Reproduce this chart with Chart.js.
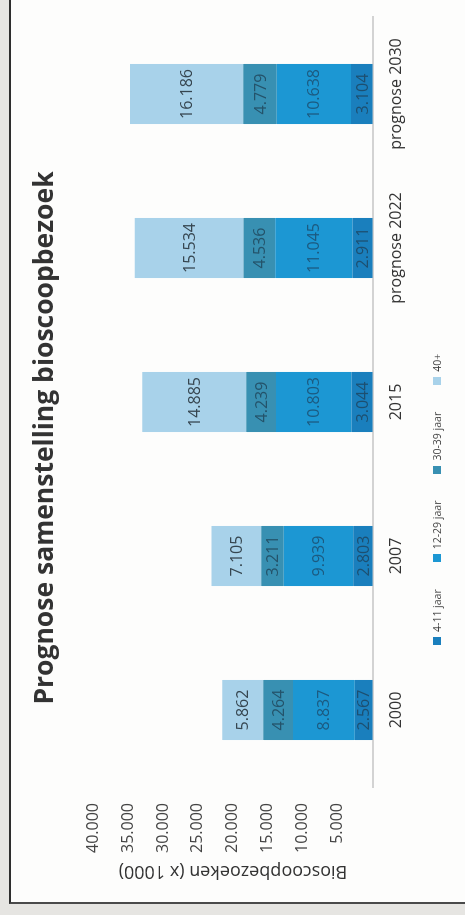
<!DOCTYPE html>
<html>
<head>
<meta charset="utf-8">
<script src="https://cdn.jsdelivr.net/npm/chart.js@4.4.1/dist/chart.umd.min.js"></script>
<style>
  html, body { margin: 0; padding: 0; }
  body {
    width: 465px; height: 915px; position: relative; overflow: hidden;
    background: #e6e5e2; font-family: "Open Sans", sans-serif;
  }
  /* the printed sheet with its frame lines */
  #sheet {
    position: absolute; left: 9px; top: 0; width: 456px; height: 904px;
    background: #fdfdfc; box-sizing: border-box;
    border-left: 2px solid #2e2e2e; border-bottom: 2px solid #4a4a4a;
  }
  /* the chart is laid out landscape and turned a quarter turn */
  #turn {
    position: absolute; left: 0; top: 0; width: 915px; height: 465px;
    transform-origin: 0 0; transform: translate(0, 915px) rotate(-90deg);
  }
  #chart { position: absolute; left: 0; top: 0; }
  #legend {
    position: absolute; left: 270px; top: 430px; height: 14px;
    display: flex; align-items: center; gap: 27px;
    font: 10.5px "Open Sans", sans-serif; color: #444; white-space: nowrap;
  }
  #legend .item { display: flex; align-items: center; }
  #legend .box { width: 8px; height: 8px; margin-right: 5px; }
</style>
</head>
<body>
<div id="sheet"></div>
<div id="turn">
  <canvas id="chart" width="915" height="465"></canvas>
  <div id="legend"></div>
</div>
<script>
// Cinema visits per age group (x 1000)
const categories = ['2000', '2007', '2015', 'prognose 2022', 'prognose 2030'];
const seriesNames = ['4-11 jaar', '12-29 jaar', '30-39 jaar', '40+'];
const age4to11  = [2567, 2803, 3044, 2911, 3104];
const age12to29 = [8837, 9939, 10803, 11045, 10638];
const age30to39 = [4264, 3211, 4239, 4536, 4779];
const age40plus = [5862, 7105, 14885, 15534, 16186];
const yTicks = [5000, 10000, 15000, 20000, 25000, 30000, 35000, 40000];

const colors = ['#1a7fbd', '#1c97d3', '#3890b2', '#a8d2ea'];
const labelColors = ['#1d4f70', '#1c5a80', '#24536a', '#364650'];

const nl = v => String(v).replace(/\B(?=(\d{3})+(?!\d))/g, '.');

const values = [age4to11, age12to29, age30to39, age40plus];
const datasets = values.map((vals, i) => ({
  label: seriesNames[i],
  data: vals,
  backgroundColor: colors[i],
  borderWidth: 0,
  categoryPercentage: 1,
  barPercentage: 0.39
}));

// value printed in the middle of each stacked segment
const segmentLabels = {
  id: 'segmentLabels',
  afterDatasetsDraw(chart) {
    const ctx = chart.ctx;
    ctx.save();
    ctx.font = '16px "Open Sans", sans-serif';
    ctx.textAlign = 'center';
    ctx.textBaseline = 'middle';
    chart.data.datasets.forEach((ds, di) => {
      ctx.fillStyle = labelColors[di];
      chart.getDatasetMeta(di).data.forEach((el, i) => {
        const p = el.getProps(['x', 'y', 'base'], true);
        ctx.fillText(nl(ds.data[i]), p.x, (p.y + p.base) / 2 + 1);
      });
    });
    ctx.restore();
  }
};

const chart = new Chart(document.getElementById('chart'), {
  type: 'bar',
  data: { labels: categories, datasets },
  options: {
    responsive: false,
    animation: false,
    layout: { padding: { left: 56, right: 17, top: 0, bottom: 45 } },
    plugins: {
      legend: { display: false },
      tooltip: { enabled: false },
      title: {
        display: true,
        text: 'Prognose samenstelling bioscoopbezoek',
        color: '#333',
        font: { family: 'Open Sans', size: 26.5, weight: 'bold', lineHeight: 1.2 },
        padding: { top: 30, bottom: 31.2 }
      }
    },
    scales: {
      x: {
        stacked: true,
        grid: { display: false, drawTicks: false },
        border: { display: true, color: '#d3d3d3', width: 2 },
        ticks: { color: '#333', padding: 14, font: { family: 'Open Sans', size: 16 } }
      },
      y: {
        stacked: true,
        min: 0,
        max: 40000,
        grid: { display: false, drawTicks: false },
        border: { display: false },
        afterBuildTicks: axis => { axis.ticks = yTicks.map(v => ({ value: v })); },
        afterFit: axis => { axis.width = 72; },
        ticks: {
          color: '#444', padding: 16,
          font: { family: 'Open Sans', size: 16 },
          callback: v => nl(v)
        },
        title: {
          display: true,
          text: 'Bioscoopbezoeken (x 1000)',
          color: '#333',
          font: { family: 'Open Sans', size: 18, lineHeight: 1.2 },
          padding: { top: -22.8, bottom: 0 }
        }
      }
    }
  },
  plugins: [segmentLabels]
});

// legend row under the axis
const legend = document.getElementById('legend');
chart.data.datasets.forEach(ds => {
  const item = document.createElement('span');
  item.className = 'item';
  const box = document.createElement('span');
  box.className = 'box';
  box.style.background = ds.backgroundColor;
  item.appendChild(box);
  item.appendChild(document.createTextNode(ds.label));
  legend.appendChild(item);
});
</script>
</body>
</html>
